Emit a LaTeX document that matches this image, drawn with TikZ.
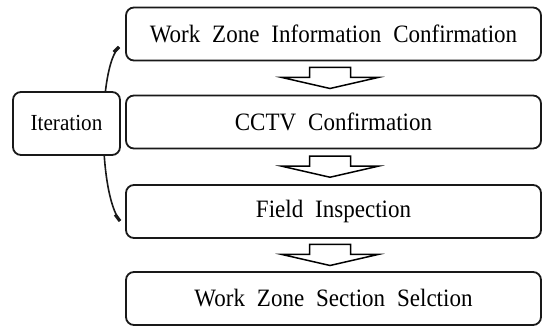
\documentclass[tikz,border=0pt]{standalone}
\usepackage{fontspec}
\setmainfont{Liberation Serif}
\usetikzlibrary{calc}
\newcommand\widewords{\spaceskip=13pt plus 1pt\relax}
\newcommand\narrowtext[1]{\scalebox{0.92}[1]{\widewords #1}}
\tikzset{
  stepbox/.style={draw=black!90, line width=1.8pt, rounded corners=8pt, fill=white,
    minimum width=415pt, minimum height=53pt, inner sep=0pt,
    font=\fontsize{25}{28}\selectfont},
  iterbox/.style={draw=black!90, line width=1.8pt, rounded corners=8pt, fill=white,
    minimum width=107pt, minimum height=63pt, inner sep=0pt,
    font=\fontsize{23}{26}\selectfont},
  blockarrow/.pic={
    \draw[line width=1.5pt, fill=white, line join=miter]
      (-20.5,-10.5) -- (20.5,-10.5) -- (20.5,-0.5) -- (48,-0.5) -- (0,10.5)
      -- (-48,-0.5) -- (-20.5,-0.5) -- cycle;
  },
  bracket/.style={line width=1.6pt, draw=black!90},
  bracketend/.style={line width=3.2pt, draw=black!90, line cap=butt}
}
\begin{document}
\begin{tikzpicture}[x=1pt,y=-1pt]
\useasboundingbox (0,0) rectangle (542,328);
% bracket curve (behind the Iteration box)
\coordinate (ctop) at (119,47);
\coordinate (cbot) at (120,221);
\draw[bracket] (ctop) .. controls (98,68) and (98,192) .. (cbot);
\draw[bracketend] ($(ctop)!0.25!(98,68)$) -- (ctop);
\draw[bracketend] ($(cbot)!0.22!(98,192)$) -- (cbot);
% boxes
\node[stepbox] (b1) at (333.5,34) {\narrowtext{Work Zone Information Confirmation}};
\node[stepbox] (b2) at (333.5,122) {\narrowtext{CCTV Confirmation}};
\node[stepbox] (b3) at (333.5,211.5) {\narrowtext{Field Inspection}};
\node[stepbox] (b4) at (333.5,298.5) {\narrowtext{Work Zone Section Selction}};
\node[iterbox] (it) at (66.5,123.5) {\narrowtext{Iteration}};
% block arrows
\pic at ($(b1.south)!0.5!(b2.north)+(-3.5,0)$) {blockarrow};
\pic at ($(b2.south)!0.5!(b3.north)+(-3.5,0)$) {blockarrow};
\pic at ($(b3.south)!0.5!(b4.north)+(-3.5,0)$) {blockarrow};
\end{tikzpicture}
\end{document}
